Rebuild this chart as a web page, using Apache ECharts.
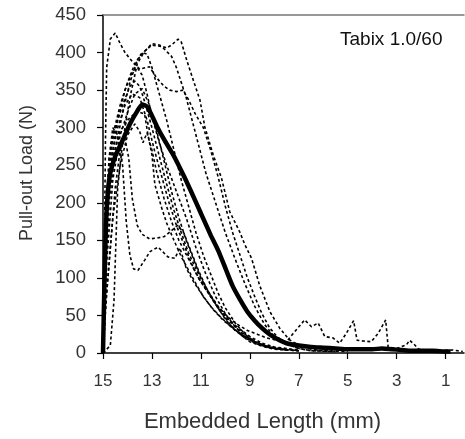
<!DOCTYPE html>
<html>
<head>
<meta charset="utf-8">
<script src="https://cdn.jsdelivr.net/npm/echarts@6/dist/echarts.min.js"></script>
<style>html,body{margin:0;padding:0;background:#fff}#c{width:465px;height:439px}</style>
</head>
<body>
<div id="c"></div>
<script>
// Embedded length (mm) vs pull-out load (N)
const xTicks = [15, 13, 11, 9, 7, 5, 3, 1];
const yMin = 0, yMax = 450, yStep = 50;

const meanCurve = [[15,0],[14.95,80],[14.88,170],[14.8,215],[14.7,240],[14.5,262],[14.2,283],[13.9,305],[13.6,322],[13.4,331],[13.2,328],[13.0,316],[12.8,302],[12.5,284],[12.1,262],[11.7,236],[11.4,215],[11.0,186],[10.6,157],[10.3,137],[10.0,113],[9.7,89],[9.4,71],[9.1,55],[8.8,43],[8.5,33],[8.2,25],[7.9,19],[7.5,13],[7.0,10],[6.5,8],[6.0,7],[5.5,6],[5.0,5],[4.5,5],[4.0,5],[3.6,6],[3.2,5],[2.8,4],[2.4,3],[2.0,3],[1.5,3],[1.0,2],[0.8,2]];

const specB = [[15,0],[14.9,100],[14.75,200],[14.5,270],[14.2,320],[13.9,360],[13.6,390],[13.37,399],[13.0,412],[12.7,410],[12.4,406],[12.2,410],[11.93,418],[11.8,414],[11.58,390],[11.31,363],[11.04,337],[10.84,301],[10.5,264],[10.16,233],[9.82,188],[9.41,161],[9.2,144],[8.93,126],[8.6,90],[8.18,55],[7.78,33],[7.4,18],[7.0,10],[6.5,5],[6.0,3],[5.0,2]];
const specC = [[15,0],[14.7,10],[14.55,70],[14.47,150],[14.4,220],[14.2,280],[13.9,340],[13.6,385],[13.3,402],[13.0,410],[12.6,408],[12.2,395],[12.0,380],[11.6,340],[11.2,290],[10.8,240],[10.4,200],[10.0,160],[9.6,125],[9.2,92],[8.8,62],[8.4,38],[8.0,22],[7.5,12],[7.0,6],[6.5,3],[5.5,2]];
const specD = [[15,0],[14.95,120],[14.9,280],[14.85,380],[14.7,418],[14.5,426],[14.3,412],[14.1,400],[13.8,388],[13.5,378],[13.1,381],[12.8,366],[12.5,355],[12.27,350],[12.0,348],[11.73,350],[11.5,337],[11.24,319],[10.9,300],[10.6,270],[10.3,235],[10.0,195],[9.7,160],[9.4,130],[9.1,100],[8.8,75],[8.5,52],[8.2,34],[7.9,22],[7.5,12],[7.0,6],[6.5,3],[5.5,2]];
const specM1 = [[15,0],[14.9,100],[14.8,220],[14.6,290],[14.3,330],[14.0,360],[13.7,385],[13.4,400],[13.2,398],[13.0,380],[12.7,345],[12.4,310],[12.1,270],[11.8,230],[11.5,195],[11.2,160],[10.9,130],[10.6,105],[10.3,80],[10.0,60],[9.6,40],[9.2,25],[8.8,15],[8.3,8],[7.8,5],[7.0,3]];
const specM2 = [[15,0],[14.9,150],[14.7,250],[14.4,310],[14.1,350],[13.8,375],[13.6,380],[13.4,370],[13.2,345],[13.0,315],[12.7,280],[12.4,250],[12.0,215],[11.6,180],[11.2,140],[10.8,105],[10.4,75],[10.0,52],[9.6,35],[9.2,22],[8.8,14],[8.3,8],[7.5,4]];
const specM3 = [[15,0],[14.85,120],[14.6,230],[14.3,290],[14.0,320],[13.7,345],[13.4,352],[13.1,330],[12.8,295],[12.5,255],[12.2,215],[11.9,180],[11.6,150],[11.3,125],[11.0,100],[10.6,75],[10.2,55],[9.8,38],[9.4,25],[9.0,15],[8.5,9],[8.0,5],[7.0,3]];
const specM4 = [[15,0],[14.85,80],[14.6,180],[14.3,250],[14.0,290],[13.7,305],[13.5,295],[13.37,280],[13.2,293],[13.0,270],[12.8,240],[12.5,205],[12.2,175],[11.9,150],[11.5,125],[11.1,100],[10.7,80],[10.3,60],[9.9,45],[9.5,32],[9.1,22],[8.7,14],[8.2,8],[7.5,4]];
const specM5 = [[15,0],[14.92,90],[14.8,200],[14.6,260],[14.3,295],[14.0,310],[13.6,322],[13.3,318],[13.16,290],[13.0,264],[12.88,224],[12.6,193],[12.4,173],[12.1,150],[11.8,128],[11.5,110],[11.2,92],[10.9,75],[10.5,58],[10.1,44],[9.7,33],[9.3,24],[8.9,17],[8.4,10],[7.8,6],[7.0,3]];
const specL2 = [[15,0],[14.9,150],[14.75,260],[14.6,300],[14.4,290],[14.2,250],[14.05,175],[13.9,130],[13.75,112],[13.57,110],[13.29,124],[13.08,135],[12.75,141],[12.35,128],[12.06,126],[11.86,140],[11.6,113],[11.3,95],[11.0,80],[10.6,62],[10.2,48],[9.8,36],[9.4,26],[9.0,18],[8.5,11],[8.0,6],[7.0,3]];
const specL3 = [[15,0],[14.9,60],[14.75,120],[14.5,220],[14.3,270],[14.1,285],[13.95,260],[13.8,205],[13.6,170],[13.4,158],[13.1,152],[12.8,153],[12.5,155],[12.2,163],[11.95,170],[11.7,160],[11.4,135],[11.1,110],[10.8,88],[10.4,65],[10.0,45],[9.6,30],[9.2,20],[8.7,12],[8.2,7],[7.5,4]];
const specT = [[15,0],[14.88,160],[14.7,250],[14.4,300],[14.1,330],[13.8,345],[13.5,340],[13.2,310],[12.9,270],[12.6,235],[12.3,200],[12.0,170],[11.7,145],[11.4,120],[11.1,100],[10.7,80],[10.3,62],[9.9,48],[9.5,38],[9.1,30],[8.7,25],[8.3,20],[7.9,17],[7.5,15],[7.23,26],[6.76,44],[6.48,35],[6.21,40],[5.94,22],[5.6,20],[5.33,13],[5.06,26],[4.76,43],[4.62,17],[4.38,16],[4.04,15],[3.76,26],[3.45,44],[3.35,8],[3.0,6],[2.6,11],[2.47,17],[2.27,11],[2.1,5],[1.5,3],[0.7,4],[0.3,2]];
const specM6 = [[15,0],[14.96,60],[14.9,170],[14.75,260],[14.5,300],[14.2,330],[13.9,355],[13.7,362],[13.5,355],[13.3,335],[13.0,300],[12.7,262],[12.4,225],[12.1,190],[11.8,160],[11.5,133],[11.1,105],[10.7,82],[10.3,62],[9.9,46],[9.5,34],[9.0,22],[8.5,13],[8.0,8],[7.0,4]];

const specimens = [specB, specC, specD, specM1, specM2, specM3, specM4, specM5, specL2, specL3, specT, specM6];

const chart = echarts.init(document.getElementById('c'), null, {renderer: 'canvas'});
const txt = '#333';
const font = 'Liberation Sans, Arial, sans-serif';

const series = specimens.map((d) => ({
  type: 'line', data: d, symbol: 'none', silent: true, z: 2,
  lineStyle: {color: '#000', width: 1.6, type: [3, 2.5]}
}));
series.push({
  type: 'line', data: meanCurve, symbol: 'none', silent: true, z: 3, smooth: 0.2,
  lineStyle: {color: '#000', width: 4.5}
});

chart.setOption({
  animation: false,
  backgroundColor: '#fff',
  title: {
    text: 'Tabix 1.0/60', left: 335, top: 25,
    textStyle: {fontFamily: font, fontSize: 19, fontWeight: 'normal', color: '#111'}
  },
  grid: {left: 103, right: 1, top: 15, bottom: 86, containLabel: false},
  xAxis: [{
    type: 'value', inverse: true, min: 0.25, max: 15,
    name: 'Embedded Length (mm)', nameLocation: 'middle', nameGap: 58,
    nameTextStyle: {fontFamily: font, fontSize: 22, color: txt, padding: [0, 42, 0, 0]},
    axisLine: {show: true, lineStyle: {color: '#000', width: 1.5}},
    axisTick: {show: true, length: 6, lineStyle: {color: '#000', width: 1.2}, customValues: xTicks},
    axisLabel: {fontFamily: font, fontSize: 17, color: txt, margin: 20, customValues: xTicks},
    splitLine: {show: false}
  }, {
    type: 'value', position: 'top', inverse: true, min: 0.25, max: 15,
    axisLine: {show: true, lineStyle: {color: '#777', width: 1.5}},
    axisTick: {show: false}, axisLabel: {show: false}, splitLine: {show: false}
  }],
  yAxis: {
    type: 'value', min: yMin, max: yMax, interval: yStep,
    name: 'Pull-out Load (N)', nameLocation: 'middle', nameGap: 67,
    nameTextStyle: {fontFamily: font, fontSize: 18, color: txt, padding: [0, 0, 0, 22]},
    axisLine: {show: true, lineStyle: {color: '#000', width: 1.5}},
    axisTick: {show: true, length: 6, lineStyle: {color: '#000', width: 1.2}},
    axisLabel: {fontFamily: font, fontSize: 18.5, color: txt, margin: 17},
    splitLine: {show: false}
  },
  series: series
});
</script>
</body>
</html>
